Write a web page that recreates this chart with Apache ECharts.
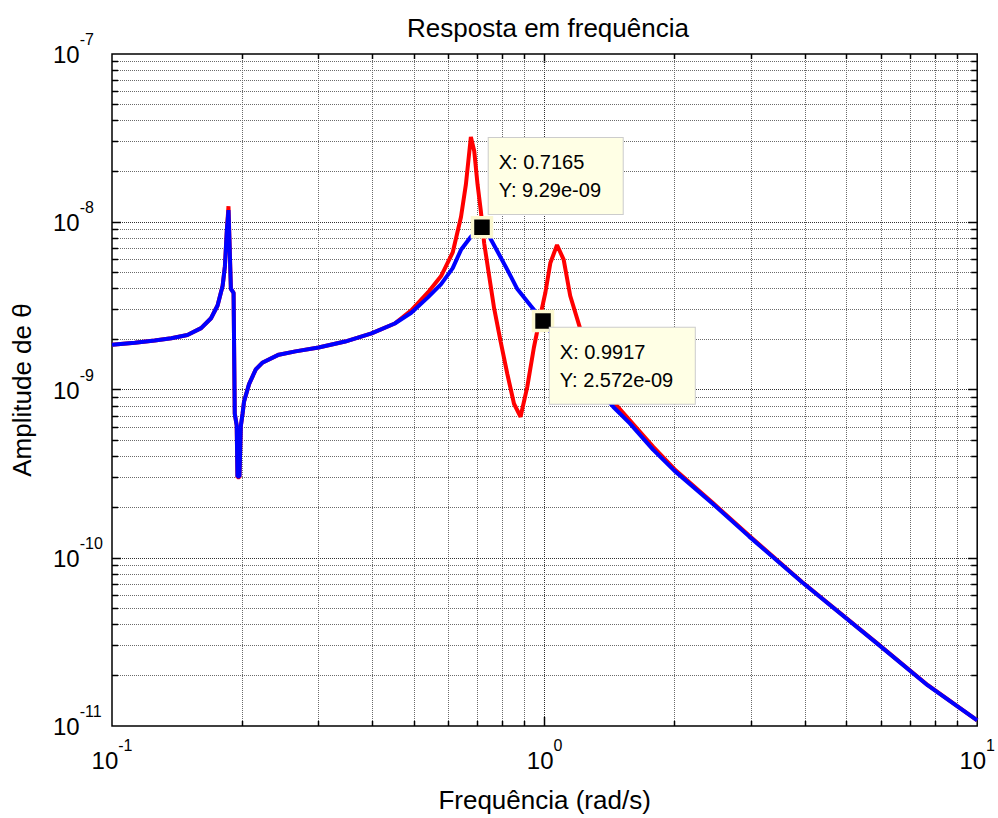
<!DOCTYPE html>
<html><head><meta charset="utf-8">
<script src="https://cdn.jsdelivr.net/npm/echarts@6/dist/echarts.min.js"></script>
<style>html,body{margin:0;padding:0;background:#fff}#c{width:998px;height:818px}</style>
</head><body><div id="c"></div>
<script>
// ---- data ----
const freqRed = [0.100,0.1129,0.1255,0.1371,0.1494,0.1607,0.1694,0.1754,0.1802,0.1824,0.1843,0.1859,0.1883,0.1910,0.1922,0.1942,0.1950,0.1971,0.1985,0.2004,0.2019,0.2074,0.2150,0.2225,0.2430,0.2655,0.3003,0.3458,0.3981,0.4505,
  0.4918,0.5374,0.5765,0.6132,0.6408,0.6578,0.6754,0.6877,0.6998,0.7120,0.7250,0.7445,0.7645,0.7914,0.8203,0.8497,0.8798,0.9116,0.9444,0.9781,1.0042,1.031,1.0683,1.1068,1.146,1.208,1.320,1.442,1.574,1.781,1.997,2.447,2.969,3.937,5.903,7.69,10.0];
const ampRed = [1.858e-9,1.909e-9,1.969e-9,2.033e-9,2.126e-9,2.335e-9,2.673e-9,3.184e-9,4.168e-9,5.455e-9,8.98e-9,1.241e-8,4.0e-9,3.79e-9,7.24e-10,6.16e-10,3.02e-10,3.02e-10,6.08e-10,7.24e-10,8.51e-10,1.084e-9,1.327e-9,1.452e-9,1.623e-9,1.698e-9,1.791e-9,1.942e-9,2.175e-9,2.488e-9,
  2.976e-9,3.807e-9,4.77e-9,6.59e-9,1.07e-8,1.675e-8,3.21e-8,2.636e-8,1.675e-8,1.171e-8,7.47e-9,4.77e-9,3.058e-9,1.942e-9,1.241e-9,8.28e-10,6.93e-10,1.041e-9,1.784e-9,2.782e-9,3.807e-9,5.70e-9,7.3e-9,5.97e-9,3.64e-9,2.326e-9,1.327e-9,8.51e-10,6.6e-10,4.6e-10,3.38e-10,2.13e-10,1.36e-10,7.2e-11,3.07e-11,1.75e-11,1.08e-11];
const freqBlue = [0.100,0.1129,0.1255,0.1371,0.1494,0.1607,0.1694,0.1754,0.1802,0.1824,0.1843,0.1859,0.1883,0.1910,0.1922,0.1942,0.1950,0.1971,0.1985,0.2004,0.2019,0.2074,0.2150,0.2225,0.2430,0.2655,0.3003,0.3458,0.3981,0.4505,
  0.4918,0.5374,0.5765,0.6132,0.6408,0.6754,0.7165,0.7450,0.7800,0.8250,0.8649,0.9277,0.9917,1.031,1.208,1.442,1.574,1.781,1.997,2.447,2.969,3.937,5.903,7.69,10.0];
const ampBlue = [1.858e-9,1.909e-9,1.969e-9,2.033e-9,2.126e-9,2.335e-9,2.673e-9,3.184e-9,4.168e-9,5.455e-9,8.98e-9,1.176e-8,4.0e-9,3.79e-9,7.24e-10,6.16e-10,3.06e-10,3.06e-10,6.08e-10,7.24e-10,8.51e-10,1.084e-9,1.327e-9,1.452e-9,1.623e-9,1.698e-9,1.791e-9,1.942e-9,2.175e-9,2.488e-9,
  2.884e-9,3.558e-9,4.264e-9,5.31e-9,6.83e-9,8.17e-9,9.29e-9,8.2e-9,6.6e-9,5.05e-9,3.988e-9,3.184e-9,2.572e-9,2.222e-9,1.36e-9,7.92e-10,6.33e-10,4.42e-10,3.30e-10,2.105e-10,1.345e-10,7.17e-11,3.06e-11,1.744e-11,1.08e-11];
const tipX = [0.7165, 0.9917];
const tipY = [9.29e-9, 2.572e-9];
const tipText = ['X: 0.7165\nY: 9.29e-09', 'X: 0.9917\nY: 2.572e-09'];
const xTickExp = [-1, 0, 1];
const yTickExp = [-11, -10, -9, -8, -7];
const xGridMajor = [1];
const xGridMinor = [0.2,0.3,0.4,0.5,0.6,0.7,0.8,0.9,2,3,4,5,6,7,8,9];
const yGridMajor = [1e-10,1e-9,1e-8];
const yGridMinor = [2e-11,3e-11,4e-11,5e-11,6e-11,7e-11,8e-11,9e-11,
  2e-10,3e-10,4e-10,5e-10,6e-10,7e-10,8e-10,9e-10,
  2e-9,3e-9,4e-9,5e-9,6e-9,7e-9,8e-9,9e-9,
  2e-8,3e-8,4e-8,5e-8,6e-8,7e-8,8e-8,9e-8];
const xMin = 0.1, xMax = 10, yMin = 1e-11, yMax = 1e-7;

// ---- styles ----
const FONT = "'Liberation Sans', Arial, Helvetica, sans-serif";
const tipOffset = [[18, -78], [18, 18]];
const tipWidth = [114, 125];

function supLabel(exps) {
  return function (value) {
    const e = Math.round(Math.log10(value));
    const i = exps.indexOf(e);
    return i < 0 ? '' : '{b|10}{s|' + exps[i] + '}';
  };
}
const richSup = {
  b: { fontSize: 24, fontFamily: FONT, color: '#000', padding: [11, 0, 11, 0], verticalAlign: 'bottom' },
  s: { fontSize: 16, fontFamily: FONT, color: '#000', verticalAlign: 'top', lineHeight: 16 }
};

function gridItems(major, minor, other) {
  return major.map(v => [v, other, 1]).concat(minor.map(v => [v, other, 0]));
}
function crisp(v) { return Math.round(v - 0.5) + 0.5; }

function renderGrid(dir) {
  return function (params, api) {
    const cs = params.coordSys;
    const v = api.value(0), isMajor = api.value(2);
    const gl = { stroke: isMajor ? '#303030' : '#6a6a6a', lineWidth: 1, lineDash: [1, 1], fill: null };
    const tk = { stroke: '#000', lineWidth: 1.5, fill: null };
    if (dir === 'x') {
      const x = crisp(api.coord([v, api.value(1)])[0]);
      const L = isMajor ? 9 : 5;
      const y0 = cs.y, y1 = cs.y + cs.height;
      return { type: 'group', children: [
        { type: 'line', shape: { x1: x, y1: y0, x2: x, y2: y1 }, style: gl },
        { type: 'line', shape: { x1: x, y1: y1, x2: x, y2: y1 - L }, style: tk },
        { type: 'line', shape: { x1: x, y1: y0, x2: x, y2: y0 + L }, style: tk }
      ] };
    } else {
      const y = crisp(api.coord([api.value(1), v])[1]);
      const L = isMajor ? 9 : 6;
      const x0 = cs.x, x1 = cs.x + cs.width;
      return { type: 'group', children: [
        { type: 'line', shape: { x1: x0, y1: y, x2: x1, y2: y }, style: gl },
        { type: 'line', shape: { x1: x0, y1: y, x2: x0 + L, y2: y }, style: tk },
        { type: 'line', shape: { x1: x1, y1: y, x2: x1 - L, y2: y }, style: tk }
      ] };
    }
  };
}

const chart = echarts.init(document.getElementById('c'), null, { renderer: 'svg' });
chart.setOption({
  animation: false,
  backgroundColor: '#fff',
  title: {
    text: 'Resposta em frequência', left: 543, top: 10, textAlign: 'center',
    textStyle: { fontSize: 26, fontWeight: 'normal', color: '#000', fontFamily: FONT }
  },
  grid: { left: 112, right: 15, top: 54, bottom: 80, show: true, borderColor: '#000', borderWidth: 1.5, backgroundColor: '#fff' },
  xAxis: {
    type: 'log', logBase: 10, min: xMin, max: xMax,
    name: 'Frequência (rad/s)', nameLocation: 'middle', nameGap: 61,
    nameTextStyle: { fontSize: 26, color: '#000', fontFamily: FONT },
    axisLine: { show: false }, axisTick: { show: false }, splitLine: { show: false },
    axisLabel: { formatter: supLabel(xTickExp), rich: richSup, margin: 11, showMinLabel: true, showMaxLabel: true }
  },
  yAxis: {
    type: 'log', logBase: 10, min: yMin, max: yMax,
    name: 'Amplitude de θ', nameLocation: 'middle', nameGap: 77, nameRotate: 90,
    nameTextStyle: { fontSize: 26, color: '#000', fontFamily: FONT },
    axisLine: { show: false }, axisTick: { show: false }, splitLine: { show: false },
    axisLabel: { formatter: supLabel(yTickExp), rich: richSup, margin: 59, align: 'left', showMinLabel: true, showMaxLabel: true }
  },
  series: [
    { type: 'custom', silent: true, z: 1, renderItem: renderGrid('x'), data: gridItems(xGridMajor, xGridMinor, 1e-9), clip: false },
    { type: 'custom', silent: true, z: 1, renderItem: renderGrid('y'), data: gridItems(yGridMajor, yGridMinor, 1), clip: false },
    { type: 'line', z: 3, showSymbol: false, clip: true, data: freqRed.map((f, i) => [f, ampRed[i]]),
      lineStyle: { color: '#ff0000', width: 4 }, itemStyle: { color: '#ff0000' } },
    { type: 'line', z: 4, showSymbol: false, clip: true, data: freqBlue.map((f, i) => [f, ampBlue[i]]),
      lineStyle: { color: '#0000ff', width: 4 }, itemStyle: { color: '#0000ff' } },
    { type: 'scatter', z: 6, symbol: 'rect', symbolSize: 19,
      itemStyle: { color: '#000', borderColor: '#fbf8d0', borderWidth: 3.5, opacity: 1 },
      data: tipX.map((x, i) => ({
        value: [x, tipY[i]],
        label: {
          show: true, formatter: tipText[i], position: tipOffset[i], width: tipWidth[i],
          align: 'left', verticalAlign: 'top',
          backgroundColor: '#ffffe5', borderColor: '#cccccc', borderWidth: 1,
          padding: [10, 10, 10, 10], fontSize: 20, lineHeight: 28, color: '#000', fontFamily: FONT
        }
      }))
    }
  ]
});
</script></body></html>
